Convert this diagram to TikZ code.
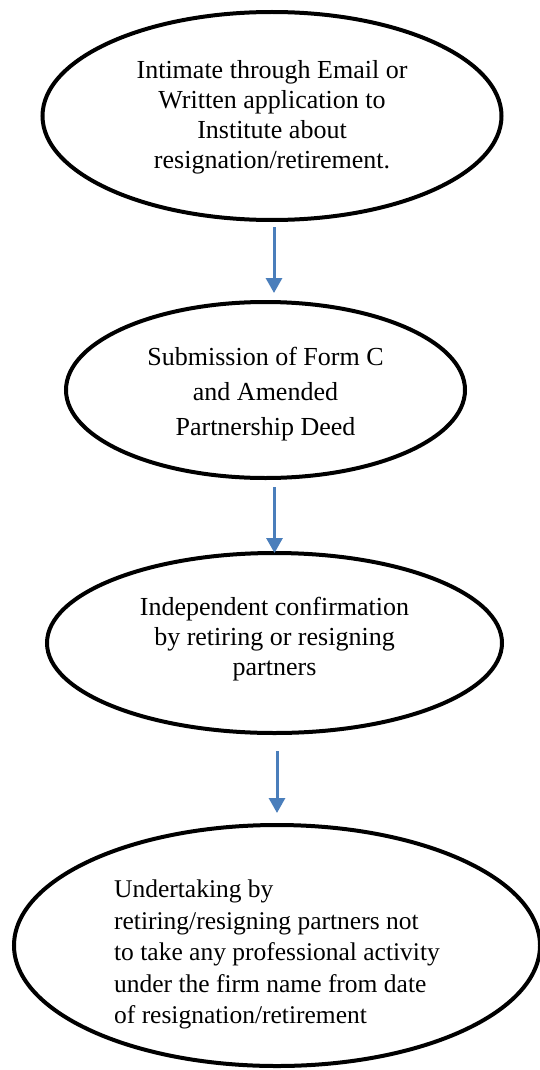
\documentclass[tikz,border=0pt]{standalone}
\usepackage{fontspec}
\setmainfont{Liberation Serif}
\usetikzlibrary{shapes.geometric,arrows.meta,calc}
\definecolor{arrowblue}{HTML}{4A7EBB}
\newcommand{\stagelines}[3]{\raisebox{#1}[\height][\depth]{\begin{tabular}{@{}#2@{}}#3\end{tabular}}}
\begin{document}
\begin{tikzpicture}[x=1pt,y=-1pt,
  stage/.style={draw=black, line width=4pt, ellipse, inner sep=0pt, outer sep=0pt,
    font=\fontsize{26}{30}\selectfont},
  flow/.style={draw=arrowblue, line width=3pt, -{Triangle[width=16pt,length=15pt]}}]
\useasboundingbox (0,0) rectangle (540,1070);
\node[stage, minimum width=459pt, minimum height=208pt] (e1) at (272,116)
  {\stagelines{-2pt}{c}{Intimate through Email or\\Written application to\\Institute about\\resignation/retirement.}};
\node[stage, minimum width=399pt, minimum height=176pt, font=\fontsize{26}{35}\selectfont] (e2) at (265.5,390)
  {\stagelines{-3.5pt}{c}{Submission of Form C\\and Amended\\Partnership Deed}};
\node[stage, minimum width=455pt, minimum height=180pt] (e3) at (274.5,643)
  {\stagelines{4pt}{c}{Independent confirmation\\by retiring or resigning\\partners}};
\node[stage, minimum width=526pt, minimum height=241pt, font=\fontsize{25.5}{31.5}\selectfont] (e4) at (277,945.5)
  {\stagelines{-9pt}{l}{Undertaking by\\retiring/resigning partners not\\to take any professional activity\\under the firm name from date\\of resignation/retirement}};
\draw[flow, shorten <=7pt, shorten >=9pt] ($(e1.south)+(2,0)$) -- ($(e1.south |- e2.north)+(2,0)$);
\draw[flow, shorten <=9pt] (e2.south -| e3.north) -- (e3.north);
\draw[flow, shorten <=18pt, shorten >=12pt] (e3.south -| e4.north) -- (e4.north);
\end{tikzpicture}
\end{document}
